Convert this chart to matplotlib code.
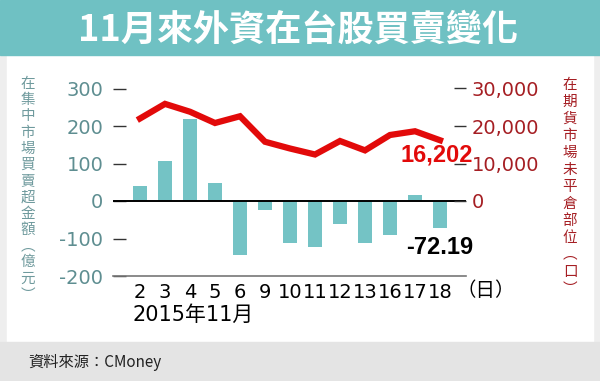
import matplotlib
matplotlib.use("Agg")
import matplotlib.pyplot as plt
from matplotlib.patches import Rectangle

plt.rcParams['font.family'] = ['DejaVu Sans', 'Noto Sans CJK TC']

# 資料
days = ['2', '3', '4', '5', '6', '9', '10', '11', '12', '13', '16', '17', '18']
net_buy = [40, 107, 218, 47, -144, -24, -113, -122, -61, -111, -91, 15, -72.19]   # 億元
open_int = [22000, 25900, 23800, 20800, 22600, 15800, 14000, 12400, 16000, 13500, 17600, 18600, 16202]  # 口
left_ticks = [-200, -100, 0, 100, 200, 300]
right_ticks = [0, 10000, 20000, 30000]

teal = '#6fc1c3'
bar_c = '#74c3c5'
red = '#e20a0a'
dark_red = '#a51e23'
gray_teal = '#5e8e91'

fig = plt.figure(figsize=(6.0, 3.81), dpi=100)
W, H = 600, 381

def px(x0, y0, w, h):
    return (x0 / W, 1 - (y0 + h) / H, w / W, h / H)

# 背景
fig.add_artist(Rectangle((0, 0), 1, 1, transform=fig.transFigure, color='#eeeeee', zorder=-5))
x, y, w, h = px(7, 55, 586, 287)
fig.add_artist(Rectangle((x, y), w, h, transform=fig.transFigure, color='white', zorder=-4))
x, y, w, h = px(0, 0, 600, 55)
fig.add_artist(Rectangle((x, y), w, h, transform=fig.transFigure, color=teal, zorder=-4))
x, y, w, h = px(0, 342, 600, 39)
fig.add_artist(Rectangle((x, y), w, h, transform=fig.transFigure, color='#e4e4e4', zorder=-4))

fig.text(0.497, 1 - 30 / H, '11月來外資在台股買賣變化', ha='center', va='center',
         color='white', fontsize=26, fontweight='bold', family='Noto Sans CJK TC')
fig.text(28 / W, 1 - 362 / H, '資料來源：CMoney', ha='left', va='center',
         color='#222222', fontsize=11, family='Noto Sans CJK TC')

ax = fig.add_axes(px(113, 81, 353, 195))
idx = list(range(len(days)))
ax.bar(idx, net_buy, width=0.56, color=bar_c, zorder=2)
ax.axhline(0, color='black', lw=1.4, zorder=3)
ax.set_xlim(-1.08, 13.04)
ax.set_ylim(-200, 320)
ax.set_yticks(left_ticks)
ax.set_yticklabels([str(v) for v in left_ticks])
ax.tick_params(axis='y', direction='in', length=9, width=1, color='#333333',
               labelsize=14, labelcolor=gray_teal, pad=7)
ax.set_xticks(idx)
ax.set_xticklabels(days)
ax.tick_params(axis='x', length=0, labelsize=14, labelcolor='black', pad=5)
for s in ['left', 'right', 'top']:
    ax.spines[s].set_visible(False)
ax.spines['bottom'].set_color('#777777')
ax.spines['bottom'].set_linewidth(1.2)
ax.patch.set_alpha(0)

ax2 = ax.twinx()
ax2.plot(idx, open_int, color=red, lw=4.5, solid_joinstyle='miter', zorder=4)
ax2.set_ylim(-20000, 32000)
ax2.set_yticks(right_ticks)
ax2.set_yticklabels(['0', '10,000', '20,000', '30,000'])
ax2.tick_params(axis='y', direction='in', length=9, width=1, color='#333333',
                labelsize=14, labelcolor=dark_red, pad=4)
for s in ['left', 'right', 'top', 'bottom']:
    ax2.spines[s].set_visible(False)

ax2.text(11.88, 12300, '16,202', ha='center', va='center', color=red,
         fontsize=17, fontweight='bold', family='Liberation Sans', zorder=5)
ax.text(12.0, -123, '-72.19', ha='center', va='center', color='black',
        fontsize=17, fontweight='bold', family='Liberation Sans', zorder=5)

fig.text(133 / W, 1 - 315 / H, '2015年11月', ha='left', va='center',
         color='black', fontsize=15, family=['DejaVu Sans', 'Noto Sans CJK TC'])
fig.text(486 / W, 1 - 290 / H, '（日）', ha='center', va='center',
         color='black', fontsize=14, family='Noto Sans CJK TC')

left_label = '在集中市場買賣超金額︵億元︶'
right_label = '在期貨市場未平倉部位︵口︶'
fig.text(28 / W, 1 - 77 / H, '\n'.join(left_label), ha='center', va='top',
         color='#6f9a9d', fontsize=10.5, linespacing=1.2, family='Noto Sans CJK TC')
fig.text(570 / W, 1 - 78 / H, '\n'.join(right_label), ha='center', va='top',
         color=dark_red, fontsize=10.5, linespacing=1.27, family='Noto Sans CJK TC')

fig.savefig('out.png', dpi=100)
